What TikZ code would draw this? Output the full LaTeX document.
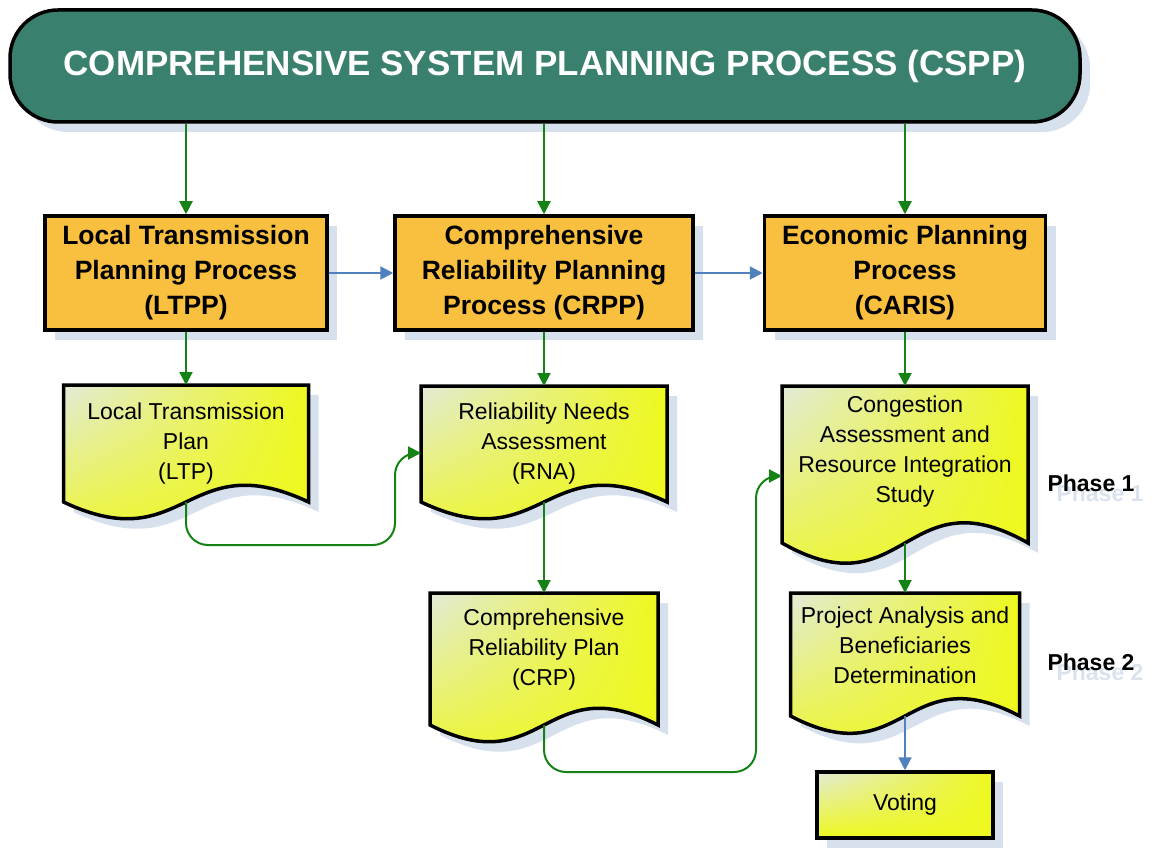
\documentclass[tikz,border=0pt]{standalone}
\usepackage{fontspec}
\setmainfont{Liberation Sans}
\usetikzlibrary{arrows.meta,shadows,shadings,backgrounds,calc}

\definecolor{bannerc}{RGB}{58,128,110}
\definecolor{orangebox}{RGB}{249,191,62}
\definecolor{shadowc}{RGB}{215,224,237}
\definecolor{phaseshd}{RGB}{218,226,238}
\definecolor{gline}{RGB}{20,130,20}
\definecolor{bline}{RGB}{79,129,189}
\definecolor{ylw}{RGB}{238,248,30}
\definecolor{ylwlight}{RGB}{226,234,216}

\tikzset{
 shd/.style={drop shadow={shadow xshift=10pt, shadow yshift=-10pt, fill=shadowc, opacity=1}},
 bannerbox/.style={shd, draw=black, line width=3.5pt, fill=bannerc, rounded corners=48pt,
   text=white, font=\fontsize{35}{40}\selectfont\bfseries, inner sep=0pt},
 procbox/.style={shd, draw=black, line width=3.5pt, fill=orangebox,
   font=\fontsize{26.5}{35}\selectfont\bfseries, align=center, inner sep=0pt},
 docarea/.style={inner sep=0pt, outer sep=0pt},
 docshape/.style={shd, draw=black, line width=3.5pt, line join=miter,
   upper left=ylwlight, upper right=ylw, lower left=ylw, lower right=ylw},
 votebox/.style={docshape, font=\fontsize{23}{30}\selectfont, inner sep=0pt,
   minimum width=176pt, minimum height=66pt},
 doctext/.style={align=center, font=\fontsize{23}{30}\selectfont, inner sep=0pt},
 phasetext/.style={font=\fontsize{23}{28}\selectfont\bfseries, inner sep=0pt},
 phaseshadow/.style={phasetext, text=phaseshd},
 garrow/.style={draw=gline, line width=2pt, -{Triangle[length=13pt,width=13pt]}},
 barrow/.style={draw=bline, line width=2pt, -{Triangle[length=13pt,width=13pt]}},
}

\newcommand\docpath[2]{%
  \path[docshape] (#1.north west) -- (#1.north east) -- (#1.south east)
    .. controls ($(#1.south)+(0,-#2)$) and ($(#1.south)+(0,#2)$) .. (#1.south west) -- cycle;}

\begin{document}
\begin{tikzpicture}[x=1pt,y=-1pt]
\useasboundingbox (0,0) rectangle (1153,850);

% banner
\node[bannerbox, minimum width=1070pt, minimum height=112pt] (cspp) at (545,66)
  {COMPREHENSIVE SYSTEM PLANNING PROCESS (CSPP)};

% process boxes
\node[procbox, minimum width=282pt, minimum height=114pt] (ltpp) at (186,273)
  {Local Transmission\\Planning Process\\(LTPP)};
\node[procbox, minimum width=298pt, minimum height=114pt] (crpp) at (544,273)
  {Comprehensive\\Reliability Planning\\Process (CRPP)};
\node[procbox, minimum width=281pt, minimum height=114pt] (caris) at (905,273)
  {Economic Planning\\Process\\(CARIS)};

% document areas
\node[docarea, minimum width=245pt, minimum height=117pt] (ltp) at (186,443.5) {};
\node[docarea, minimum width=246pt, minimum height=116pt] (rna) at (544,444) {};
\node[docarea, minimum width=228pt, minimum height=132pt] (crp) at (544,659) {};
\node[docarea, minimum width=246pt, minimum height=157pt] (car) at (905,464.5) {};
\node[docarea, minimum width=229pt, minimum height=123pt] (pab) at (905,654.5) {};

\begin{scope}[on background layer]
  \docpath{ltp}{58}
  \docpath{rna}{58}
  \docpath{crp}{58}
  \docpath{car}{70}
  \docpath{pab}{60}
\end{scope}

\node[doctext] (ltpt) at (186,444) {Local Transmission\\Plan\\(LTP)};
\node[doctext] (rnat) at (544,444) {Reliability Needs\\Assessment\\(RNA)};
\node[doctext] (crpt) at (544,650) {Comprehensive\\Reliability Plan\\(CRP)};
\node[doctext] (cart) at (905,452) {Congestion\\Assessment and\\Resource Integration\\Study};
\node[doctext] (pabt) at (905,645) {Project Analysis and\\Beneficiaries\\Determination};

\node[votebox] (vote) at (905,805) {Voting};

% phase labels
\node[phaseshadow] (ph1s) at (1100,493) {Phase 1};
\node[phasetext] (ph1) at (1091,483) {Phase 1};
\node[phaseshadow] (ph2s) at (1100,672) {Phase 2};
\node[phasetext] (ph2) at (1091,662) {Phase 2};

% junction coordinates
\coordinate (j1) at (395,545);
\coordinate (j2) at (756,772);

% connectors
\draw[garrow] (cspp.south -| ltpp.north) -- (ltpp.north);
\draw[garrow] (cspp.south -| crpp.north) -- (crpp.north);
\draw[garrow] (cspp.south -| caris.north) -- (caris.north);
\draw[barrow] (ltpp.east) -- (crpp.west);
\draw[barrow] (crpp.east) -- (caris.west);
\draw[garrow] (ltpp.south) -- (ltp.north);
\draw[garrow] (crpp.south) -- (rna.north);
\draw[garrow] (caris.south) -- (car.north);
\draw[garrow] (rna.south) -- (crp.north);
\draw[garrow] (car.south) -- (pab.north);
\draw[barrow] (pab.south) -- (vote.north);
\draw[garrow, rounded corners=22pt] (ltp.south) |- (j1) |- ([yshift=-9pt]rna.west);
\draw[garrow, rounded corners=22pt] (crp.south) |- (j2) |- ([yshift=-11.5pt]car.west);
\end{tikzpicture}
\end{document}
